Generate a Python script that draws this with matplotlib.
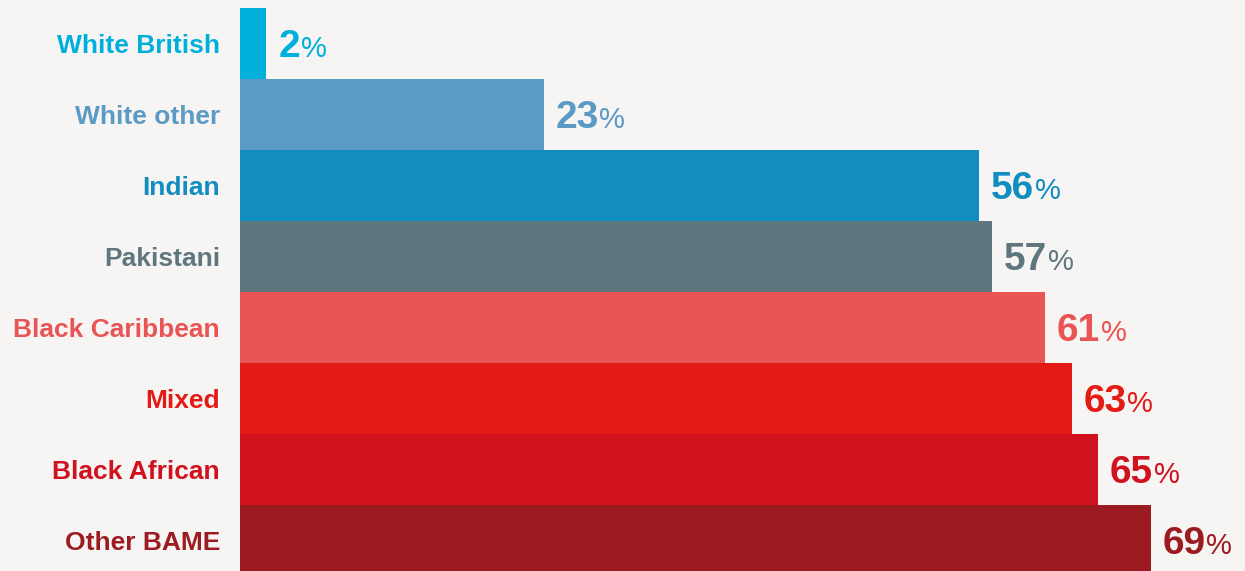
import matplotlib
matplotlib.use("Agg")
import matplotlib.pyplot as plt

categories = ["White British", "White other", "Indian", "Pakistani",
              "Black Caribbean", "Mixed", "Black African", "Other BAME"]
values = [2, 23, 56, 57, 61, 63, 65, 69]
colors = ["#00B0DC", "#5B9AC5", "#128DC0", "#5E777E",
          "#E95454", "#E31B14", "#D0111E", "#9C1B20"]

BG = "#F7F5F3"
FAM = ['Liberation Sans', 'DejaVu Sans']
plt.rcParams['font.family'] = FAM

W, H, DPI = 12.45, 5.71, 100
fig = plt.figure(figsize=(W, H), dpi=DPI, facecolor=BG)
left = 240 / 1245
ax = fig.add_axes([left, 0, 1 - left, 1])
ax.set_facecolor(BG)

ypos = list(range(len(categories)))
ax.barh(ypos, values, height=1.0, color=colors, linewidth=0)

ax.set_xlim(0, (1245 - 240) / 13.2)
ax.set_ylim((571 - 43.5) / 71, -43.5 / 71)

ax.set_yticks(ypos)
ax.set_yticklabels(categories, fontsize=19, fontweight='bold', family=FAM)
for lab, c in zip(ax.get_yticklabels(), colors):
    lab.set_color(c)
ax.tick_params(axis='y', length=0, pad=14.4)
ax.set_xticks([])
for s in ax.spines.values():
    s.set_visible(False)

fig.canvas.draw()
renderer = fig.canvas.get_renderer()
for i, (v, c) in enumerate(zip(values, colors)):
    t = ax.annotate(f"{v}", xy=(v, i), xytext=(8.5, -10), textcoords='offset points',
                    fontsize=28, fontweight='bold', family=FAM, color=c,
                    va='baseline', ha='left')
    bb = t.get_window_extent(renderer=renderer)
    wpt = bb.width / DPI * 72
    ax.annotate("%", xy=(v, i), xytext=(8.5 + wpt + 0.5, -10), textcoords='offset points',
                fontsize=21, fontweight='normal', family=FAM, color=c,
                va='baseline', ha='left')

fig.savefig("out.png", dpi=DPI, facecolor=BG)
